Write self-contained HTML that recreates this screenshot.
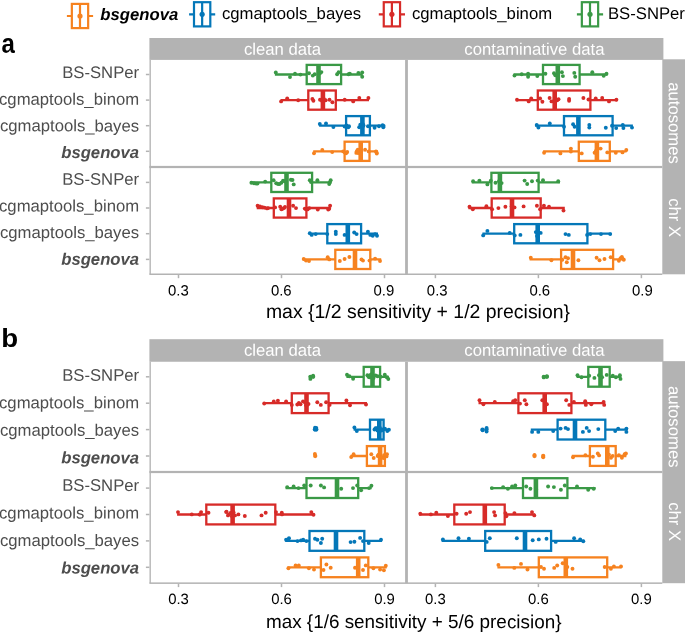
<!DOCTYPE html>
<html lang="en"><head><meta charset="utf-8"><title>Figure</title>
<style>html,body{margin:0;padding:0;background:#fff}body{width:685px;height:633px;overflow:hidden}svg{display:block;font-family:"Liberation Sans",Arial,Helvetica,sans-serif}</style>
</head><body>
<svg width="685" height="633" viewBox="0 0 685 633" role="img" aria-label="Box plots comparing SNV callers">
<rect width="685" height="633" fill="#fff"/>
<g stroke="#F6821F" fill="none" stroke-width="2.2">
<path d="M66.9 16.0H71.8M88.2 16.0H93.1M80.0 3.9V28.1"/>
<rect x="71.85" y="3.9" width="16.3" height="24.2"/>
</g>
<circle cx="80.0" cy="16.0" r="2.6" fill="#F6821F"/>
<text transform="translate(100.3 20.05) rotate(0.03)" font-size="16.7" fill="#000" font-weight="bold" font-style="italic">bsgenova</text>
<g stroke="#0477B8" fill="none" stroke-width="2.2">
<path d="M189.1 14.3H194.0M210.3 14.3H215.2M202.15 2.2V26.4"/>
<rect x="194.00" y="2.2" width="16.3" height="24.2"/>
</g>
<circle cx="202.15" cy="14.3" r="2.6" fill="#0477B8"/>
<text transform="translate(222.0 19.0) rotate(0.03)" font-size="16.7" fill="#000">cgmaptools_bayes</text>
<g stroke="#D72B28" fill="none" stroke-width="2.2">
<path d="M378.8 14.3H383.8M400.0 14.3H405.0M391.9 2.2V26.4"/>
<rect x="383.75" y="2.2" width="16.3" height="24.2"/>
</g>
<circle cx="391.9" cy="14.3" r="2.6" fill="#D72B28"/>
<text transform="translate(412.0 19.0) rotate(0.03)" font-size="16.7" fill="#000">cgmaptools_binom</text>
<g stroke="#3A9946" fill="none" stroke-width="2.2">
<path d="M576.9 14.3H581.9M598.1 14.3H603.1M590.0 2.2V26.4"/>
<rect x="581.85" y="2.2" width="16.3" height="24.2"/>
</g>
<circle cx="590.0" cy="14.3" r="2.6" fill="#3A9946"/>
<text transform="translate(607.95 19.0) rotate(0.03)" font-size="16.7" fill="#000">BS-SNPer</text>
<rect x="149.4" y="38.0" width="514.0" height="21.90" fill="#B3B3B3"/>
<rect x="662.3" y="59.30" width="22.7" height="215.00" fill="#B3B3B3"/>
<g fill="#B3B3B3">
<rect x="149.5" y="59.9" width="1.35" height="214.40"/>
<rect x="405.1" y="59.9" width="2.8" height="214.40"/>
<rect x="149.4" y="165.90" width="512.9" height="2.2"/>
<rect x="149.4" y="273.50" width="512.9" height="1.5"/>
<rect x="145.9" y="73.75" width="3.5" height="1.5"/>
<rect x="145.9" y="99.35" width="3.5" height="1.5"/>
<rect x="145.9" y="124.95" width="3.5" height="1.5"/>
<rect x="145.9" y="150.55" width="3.5" height="1.5"/>
<rect x="145.9" y="181.65" width="3.5" height="1.5"/>
<rect x="145.9" y="207.25" width="3.5" height="1.5"/>
<rect x="145.9" y="232.95" width="3.5" height="1.5"/>
<rect x="145.9" y="258.65" width="3.5" height="1.5"/>
<rect x="177.75" y="274.80" width="1.5" height="3.4"/>
<rect x="280.75" y="274.80" width="1.5" height="3.4"/>
<rect x="383.75" y="274.80" width="1.5" height="3.4"/>
<rect x="434.65" y="274.80" width="1.5" height="3.4"/>
<rect x="537.65" y="274.80" width="1.5" height="3.4"/>
<rect x="640.65" y="274.80" width="1.5" height="3.4"/>
</g>
<g fill="#fff" font-size="16.7" text-anchor="middle">
<text transform="translate(282.4 54.7) rotate(0.03)">clean data</text>
<text transform="translate(534.4 54.7) rotate(0.03)">contaminative data</text>
<text transform="translate(668.7 123.0) rotate(90.03)">autosomes</text>
<text transform="translate(668.9 217.6) rotate(90.03)">chr X</text>
</g>
<g fill="#4D4D4D" font-size="16.7" text-anchor="end">
<text transform="translate(139.1 78.1) rotate(0.03)">BS-SNPer</text>
<text transform="translate(139.1 104.8) rotate(0.03)">cgmaptools_binom</text>
<text transform="translate(139.1 131.4) rotate(0.03)">cgmaptools_bayes</text>
<text transform="translate(139.1 158.1) rotate(0.03)" font-weight="bold" font-style="italic">bsgenova</text>
<text transform="translate(139.1 184.8) rotate(0.03)">BS-SNPer</text>
<text transform="translate(139.1 211.5) rotate(0.03)">cgmaptools_binom</text>
<text transform="translate(139.1 238.1) rotate(0.03)">cgmaptools_bayes</text>
<text transform="translate(139.1 264.8) rotate(0.03)" font-weight="bold" font-style="italic">bsgenova</text>
</g>
<g fill="#000" font-size="14.9" text-anchor="middle">
<text transform="translate(178.4 295.4) rotate(0.03)">0.3</text>
<text transform="translate(281.3 295.4) rotate(0.03)">0.6</text>
<text transform="translate(383.9 295.4) rotate(0.03)">0.9</text>
<text transform="translate(437.2 295.4) rotate(0.03)">0.3</text>
<text transform="translate(539.8 295.4) rotate(0.03)">0.6</text>
<text transform="translate(642.4 295.4) rotate(0.03)">0.9</text>
</g>
<text transform="translate(265.9 318.0) rotate(0.03)" font-size="19.45" fill="#000">max {1/2 sensitivity + 1/2 precision}</text>
<text transform="translate(1.6 52.5) scale(1.0 1.155)" font-size="24" font-weight="bold" fill="#000">a</text>
<g stroke="#3A9946" fill="none" stroke-width="2.3"><path d="M274.9 74.5H306.7M341.1 74.5H362.7"/><rect x="306.7" y="64.9" width="34.4" height="19.2"/><path stroke-width="4.6" d="M318.5 64.9V84.1"/></g><g fill="#3A9946"><circle cx="275.8" cy="72.5" r="1.95"/><circle cx="290.0" cy="77.1" r="1.95"/><circle cx="295.0" cy="73.7" r="1.95"/><circle cx="300.5" cy="74.6" r="1.95"/><circle cx="309.0" cy="73.3" r="1.95"/><circle cx="312.8" cy="75.6" r="1.95"/><circle cx="314.7" cy="74.2" r="1.95"/><circle cx="320.0" cy="73.3" r="1.95"/><circle cx="321.4" cy="72.1" r="1.95"/><circle cx="337.1" cy="74.2" r="1.95"/><circle cx="338.6" cy="72.3" r="1.95"/><circle cx="348.5" cy="74.2" r="1.95"/><circle cx="349.8" cy="73.6" r="1.95"/><circle cx="358.4" cy="72.9" r="1.95"/><circle cx="362.2" cy="72.5" r="1.95"/><circle cx="362.2" cy="76.7" r="1.95"/></g>
<g stroke="#D72B28" fill="none" stroke-width="2.3"><path d="M280.6 100.1H308.3M335.8 100.1H369.0"/><rect x="308.3" y="90.5" width="27.5" height="19.2"/><path stroke-width="4.6" d="M322.9 90.5V109.7"/></g><g fill="#D72B28"><circle cx="281.1" cy="101.4" r="1.95"/><circle cx="287.2" cy="98.5" r="1.95"/><circle cx="298.2" cy="100.2" r="1.95"/><circle cx="312.4" cy="98.9" r="1.95"/><circle cx="313.4" cy="100.8" r="1.95"/><circle cx="320.0" cy="99.8" r="1.95"/><circle cx="322.0" cy="100.8" r="1.95"/><circle cx="323.8" cy="98.9" r="1.95"/><circle cx="325.7" cy="100.2" r="1.95"/><circle cx="329.5" cy="99.8" r="1.95"/><circle cx="332.4" cy="102.3" r="1.95"/><circle cx="344.7" cy="99.8" r="1.95"/><circle cx="353.2" cy="101.4" r="1.95"/><circle cx="359.3" cy="98.0" r="1.95"/><circle cx="368.4" cy="98.0" r="1.95"/></g>
<g stroke="#0477B8" fill="none" stroke-width="2.3"><path d="M319.1 125.7H346.1M369.9 125.7H384.0"/><rect x="346.1" y="116.1" width="23.8" height="19.2"/><path stroke-width="4.6" d="M362.4 116.1V135.3"/></g><g fill="#0477B8"><circle cx="319.8" cy="124.0" r="1.95"/><circle cx="326.0" cy="123.4" r="1.95"/><circle cx="333.4" cy="127.0" r="1.95"/><circle cx="344.6" cy="126.6" r="1.95"/><circle cx="348.3" cy="127.3" r="1.95"/><circle cx="359.2" cy="127.3" r="1.95"/><circle cx="361.4" cy="125.9" r="1.95"/><circle cx="362.9" cy="124.1" r="1.95"/><circle cx="368.0" cy="126.2" r="1.95"/><circle cx="374.6" cy="127.8" r="1.95"/><circle cx="379.0" cy="126.3" r="1.95"/><circle cx="382.6" cy="125.1" r="1.95"/><circle cx="383.3" cy="127.3" r="1.95"/><circle cx="346.5" cy="125.5" r="1.95"/><circle cx="349.0" cy="126.2" r="1.95"/><circle cx="360.3" cy="124.8" r="1.95"/><circle cx="362.5" cy="127.0" r="1.95"/><circle cx="363.5" cy="125.5" r="1.95"/><circle cx="383.6" cy="126.0" r="1.95"/></g>
<g stroke="#F6821F" fill="none" stroke-width="2.3"><path d="M313.2 151.3H344.6M369.5 151.3H377.9"/><rect x="344.6" y="141.7" width="24.9" height="19.2"/><path stroke-width="4.6" d="M360.7 141.7V160.9"/></g><g fill="#F6821F"><circle cx="314.0" cy="153.2" r="1.95"/><circle cx="322.3" cy="150.0" r="1.95"/><circle cx="332.2" cy="152.1" r="1.95"/><circle cx="343.2" cy="151.4" r="1.95"/><circle cx="346.1" cy="153.3" r="1.95"/><circle cx="356.3" cy="152.9" r="1.95"/><circle cx="357.8" cy="149.7" r="1.95"/><circle cx="361.4" cy="151.0" r="1.95"/><circle cx="365.1" cy="149.7" r="1.95"/><circle cx="368.7" cy="151.4" r="1.95"/><circle cx="376.0" cy="151.4" r="1.95"/><circle cx="376.8" cy="153.6" r="1.95"/><circle cx="344.8" cy="152.4" r="1.95"/><circle cx="347.2" cy="152.0" r="1.95"/><circle cx="356.8" cy="151.2" r="1.95"/><circle cx="358.3" cy="153.0" r="1.95"/><circle cx="376.6" cy="152.5" r="1.95"/></g>
<g stroke="#3A9946" fill="none" stroke-width="2.3"><path d="M513.5 74.5H543.0M579.6 74.5H607.5"/><rect x="543.0" y="64.9" width="36.6" height="19.2"/><path stroke-width="4.6" d="M557.8 64.9V84.1"/></g><g fill="#3A9946"><circle cx="514.5" cy="75.6" r="1.95"/><circle cx="521.7" cy="74.2" r="1.95"/><circle cx="528.1" cy="73.7" r="1.95"/><circle cx="528.1" cy="76.7" r="1.95"/><circle cx="537.3" cy="76.1" r="1.95"/><circle cx="545.4" cy="73.7" r="1.95"/><circle cx="554.0" cy="73.3" r="1.95"/><circle cx="555.3" cy="75.2" r="1.95"/><circle cx="561.9" cy="72.3" r="1.95"/><circle cx="562.9" cy="76.1" r="1.95"/><circle cx="574.3" cy="72.9" r="1.95"/><circle cx="575.2" cy="76.7" r="1.95"/><circle cx="592.3" cy="72.3" r="1.95"/><circle cx="603.7" cy="75.7" r="1.95"/><circle cx="606.5" cy="73.7" r="1.95"/></g>
<g stroke="#D72B28" fill="none" stroke-width="2.3"><path d="M516.4 100.1H537.8M590.4 100.1H617.0"/><rect x="537.8" y="90.5" width="52.6" height="19.2"/><path stroke-width="4.6" d="M554.7 90.5V109.7"/></g><g fill="#D72B28"><circle cx="517.0" cy="99.8" r="1.95"/><circle cx="528.7" cy="101.4" r="1.95"/><circle cx="531.2" cy="98.5" r="1.95"/><circle cx="540.1" cy="98.5" r="1.95"/><circle cx="542.4" cy="101.7" r="1.95"/><circle cx="549.6" cy="98.0" r="1.95"/><circle cx="551.5" cy="101.4" r="1.95"/><circle cx="554.7" cy="99.5" r="1.95"/><circle cx="557.2" cy="100.2" r="1.95"/><circle cx="558.5" cy="99.3" r="1.95"/><circle cx="569.1" cy="98.9" r="1.95"/><circle cx="569.1" cy="100.8" r="1.95"/><circle cx="583.4" cy="98.0" r="1.95"/><circle cx="588.5" cy="99.5" r="1.95"/><circle cx="595.7" cy="98.5" r="1.95"/><circle cx="602.2" cy="98.0" r="1.95"/><circle cx="609.0" cy="101.4" r="1.95"/><circle cx="616.4" cy="99.8" r="1.95"/></g>
<g stroke="#0477B8" fill="none" stroke-width="2.3"><path d="M535.2 125.7H564.0M612.6 125.7H632.9"/><rect x="564.0" y="116.1" width="48.6" height="19.2"/><path stroke-width="4.6" d="M578.4 116.1V135.3"/></g><g fill="#0477B8"><circle cx="536.7" cy="124.9" r="1.95"/><circle cx="538.4" cy="127.6" r="1.95"/><circle cx="549.8" cy="123.4" r="1.95"/><circle cx="564.0" cy="126.8" r="1.95"/><circle cx="573.1" cy="124.3" r="1.95"/><circle cx="574.6" cy="126.8" r="1.95"/><circle cx="589.3" cy="124.9" r="1.95"/><circle cx="589.3" cy="127.6" r="1.95"/><circle cx="605.8" cy="127.7" r="1.95"/><circle cx="612.0" cy="125.7" r="1.95"/><circle cx="616.2" cy="128.1" r="1.95"/><circle cx="622.8" cy="124.9" r="1.95"/><circle cx="623.4" cy="128.1" r="1.95"/><circle cx="632.0" cy="127.6" r="1.95"/></g>
<g stroke="#F6821F" fill="none" stroke-width="2.3"><path d="M543.1 151.3H578.8M609.8 151.3H626.6"/><rect x="578.8" y="141.7" width="31.0" height="19.2"/><path stroke-width="4.6" d="M596.9 141.7V160.9"/></g><g fill="#F6821F"><circle cx="544.1" cy="152.8" r="1.95"/><circle cx="560.4" cy="153.4" r="1.95"/><circle cx="570.9" cy="148.6" r="1.95"/><circle cx="570.9" cy="151.5" r="1.95"/><circle cx="581.7" cy="153.4" r="1.95"/><circle cx="594.6" cy="152.8" r="1.95"/><circle cx="595.9" cy="150.9" r="1.95"/><circle cx="600.6" cy="148.6" r="1.95"/><circle cx="607.3" cy="152.4" r="1.95"/><circle cx="615.8" cy="152.8" r="1.95"/><circle cx="622.5" cy="152.4" r="1.95"/><circle cx="626.3" cy="150.0" r="1.95"/></g>
<g stroke="#3A9946" fill="none" stroke-width="2.3"><path d="M250.4 182.4H271.3M312.1 182.4H331.5"/><rect x="271.3" y="172.8" width="40.8" height="19.2"/><path stroke-width="4.6" d="M286.5 172.8V192.0"/></g><g fill="#3A9946"><circle cx="251.4" cy="182.7" r="1.95"/><circle cx="256.1" cy="183.6" r="1.95"/><circle cx="265.2" cy="181.6" r="1.95"/><circle cx="273.6" cy="180.2" r="1.95"/><circle cx="278.0" cy="184.0" r="1.95"/><circle cx="281.4" cy="182.7" r="1.95"/><circle cx="284.6" cy="181.2" r="1.95"/><circle cx="290.9" cy="179.7" r="1.95"/><circle cx="293.7" cy="184.4" r="1.95"/><circle cx="309.8" cy="180.2" r="1.95"/><circle cx="317.4" cy="180.2" r="1.95"/><circle cx="329.2" cy="184.0" r="1.95"/><circle cx="330.7" cy="180.2" r="1.95"/><circle cx="276.2" cy="183.3" r="1.95"/><circle cx="279.5" cy="184.0" r="1.95"/><circle cx="283.1" cy="180.6" r="1.95"/><circle cx="254.0" cy="183.3" r="1.95"/><circle cx="257.5" cy="183.6" r="1.95"/><circle cx="292.5" cy="180.0" r="1.95"/><circle cx="311.0" cy="182.0" r="1.95"/><circle cx="329.8" cy="182.4" r="1.95"/></g>
<g stroke="#D72B28" fill="none" stroke-width="2.3"><path d="M256.7 208.0H273.8M306.4 208.0H330.7"/><rect x="273.8" y="198.4" width="32.6" height="19.2"/><path stroke-width="4.6" d="M289.0 198.4V217.6"/></g><g fill="#D72B28"><circle cx="257.6" cy="205.8" r="1.95"/><circle cx="262.4" cy="207.2" r="1.95"/><circle cx="268.1" cy="208.1" r="1.95"/><circle cx="275.1" cy="207.4" r="1.95"/><circle cx="280.2" cy="206.8" r="1.95"/><circle cx="281.4" cy="209.3" r="1.95"/><circle cx="284.0" cy="208.1" r="1.95"/><circle cx="293.1" cy="205.8" r="1.95"/><circle cx="296.0" cy="208.1" r="1.95"/><circle cx="306.0" cy="209.3" r="1.95"/><circle cx="309.3" cy="208.1" r="1.95"/><circle cx="317.8" cy="209.6" r="1.95"/><circle cx="328.2" cy="209.6" r="1.95"/><circle cx="330.1" cy="205.8" r="1.95"/><circle cx="260.0" cy="206.4" r="1.95"/><circle cx="264.5" cy="207.6" r="1.95"/><circle cx="267.0" cy="208.4" r="1.95"/><circle cx="282.5" cy="208.8" r="1.95"/><circle cx="285.0" cy="207.0" r="1.95"/><circle cx="304.8" cy="208.6" r="1.95"/><circle cx="307.6" cy="209.4" r="1.95"/><circle cx="329.2" cy="208.8" r="1.95"/></g>
<g stroke="#0477B8" fill="none" stroke-width="2.3"><path d="M309.0 233.7H327.3M361.1 233.7H378.0"/><rect x="327.3" y="224.1" width="33.8" height="19.2"/><path stroke-width="4.6" d="M347.8 224.1V243.3"/></g><g fill="#0477B8"><circle cx="309.8" cy="233.3" r="1.95"/><circle cx="311.7" cy="234.9" r="1.95"/><circle cx="315.7" cy="234.1" r="1.95"/><circle cx="327.3" cy="234.1" r="1.95"/><circle cx="335.8" cy="231.7" r="1.95"/><circle cx="335.8" cy="234.1" r="1.95"/><circle cx="344.6" cy="234.9" r="1.95"/><circle cx="354.2" cy="232.5" r="1.95"/><circle cx="356.6" cy="234.1" r="1.95"/><circle cx="367.9" cy="231.7" r="1.95"/><circle cx="370.3" cy="234.9" r="1.95"/><circle cx="372.7" cy="235.7" r="1.95"/><circle cx="375.1" cy="234.1" r="1.95"/><circle cx="377.0" cy="235.7" r="1.95"/></g>
<g stroke="#F6821F" fill="none" stroke-width="2.3"><path d="M302.8 259.4H335.3M370.3 259.4H381.2"/><rect x="335.3" y="249.8" width="35.0" height="19.2"/><path stroke-width="4.6" d="M355.0 249.8V269.0"/></g><g fill="#F6821F"><circle cx="303.7" cy="259.0" r="1.95"/><circle cx="306.0" cy="260.6" r="1.95"/><circle cx="309.0" cy="261.0" r="1.95"/><circle cx="327.7" cy="257.3" r="1.95"/><circle cx="329.3" cy="259.4" r="1.95"/><circle cx="339.8" cy="261.0" r="1.95"/><circle cx="344.6" cy="259.0" r="1.95"/><circle cx="349.4" cy="257.0" r="1.95"/><circle cx="361.5" cy="259.4" r="1.95"/><circle cx="363.0" cy="260.6" r="1.95"/><circle cx="369.5" cy="260.6" r="1.95"/><circle cx="375.1" cy="258.6" r="1.95"/><circle cx="380.0" cy="261.0" r="1.95"/></g>
<g stroke="#3A9946" fill="none" stroke-width="2.3"><path d="M471.8 182.4H491.4M538.6 182.4H560.0"/><rect x="491.4" y="172.8" width="47.2" height="19.2"/><path stroke-width="4.6" d="M499.9 172.8V192.0"/></g><g fill="#3A9946"><circle cx="473.1" cy="181.2" r="1.95"/><circle cx="479.4" cy="180.6" r="1.95"/><circle cx="487.4" cy="184.4" r="1.95"/><circle cx="490.8" cy="180.8" r="1.95"/><circle cx="495.5" cy="182.7" r="1.95"/><circle cx="499.0" cy="181.2" r="1.95"/><circle cx="501.6" cy="183.1" r="1.95"/><circle cx="524.6" cy="180.6" r="1.95"/><circle cx="527.2" cy="184.0" r="1.95"/><circle cx="532.0" cy="181.2" r="1.95"/><circle cx="537.7" cy="180.6" r="1.95"/><circle cx="543.0" cy="180.2" r="1.95"/><circle cx="558.2" cy="181.2" r="1.95"/></g>
<g stroke="#D72B28" fill="none" stroke-width="2.3"><path d="M468.4 208.0H491.7M540.7 208.0H564.8"/><rect x="491.7" y="198.4" width="49.0" height="19.2"/><path stroke-width="4.6" d="M512.0 198.4V217.6"/></g><g fill="#D72B28"><circle cx="469.5" cy="206.8" r="1.95"/><circle cx="472.8" cy="209.3" r="1.95"/><circle cx="486.4" cy="206.2" r="1.95"/><circle cx="492.1" cy="209.3" r="1.95"/><circle cx="498.4" cy="208.1" r="1.95"/><circle cx="505.4" cy="206.8" r="1.95"/><circle cx="511.7" cy="206.2" r="1.95"/><circle cx="514.5" cy="207.4" r="1.95"/><circle cx="523.6" cy="206.4" r="1.95"/><circle cx="536.9" cy="205.8" r="1.95"/><circle cx="540.1" cy="209.3" r="1.95"/><circle cx="543.9" cy="205.8" r="1.95"/><circle cx="549.0" cy="206.8" r="1.95"/><circle cx="563.5" cy="210.6" r="1.95"/></g>
<g stroke="#0477B8" fill="none" stroke-width="2.3"><path d="M482.4 233.7H514.2M587.4 233.7H611.4"/><rect x="514.2" y="224.1" width="73.2" height="19.2"/><path stroke-width="4.6" d="M537.7 224.1V243.3"/></g><g fill="#0477B8"><circle cx="483.2" cy="235.4" r="1.95"/><circle cx="487.4" cy="230.9" r="1.95"/><circle cx="509.7" cy="232.9" r="1.95"/><circle cx="514.7" cy="235.4" r="1.95"/><circle cx="520.4" cy="234.9" r="1.95"/><circle cx="535.8" cy="232.1" r="1.95"/><circle cx="537.0" cy="235.9" r="1.95"/><circle cx="540.7" cy="232.9" r="1.95"/><circle cx="565.5" cy="234.1" r="1.95"/><circle cx="568.8" cy="234.9" r="1.95"/><circle cx="587.1" cy="234.9" r="1.95"/><circle cx="590.3" cy="234.1" r="1.95"/><circle cx="601.0" cy="234.1" r="1.95"/><circle cx="610.2" cy="234.1" r="1.95"/></g>
<g stroke="#F6821F" fill="none" stroke-width="2.3"><path d="M529.6 259.4H561.1M613.1 259.4H625.1"/><rect x="561.1" y="249.8" width="52.0" height="19.2"/><path stroke-width="4.6" d="M573.0 249.8V269.0"/></g><g fill="#F6821F"><circle cx="530.8" cy="257.7" r="1.95"/><circle cx="551.4" cy="260.2" r="1.95"/><circle cx="562.3" cy="259.7" r="1.95"/><circle cx="565.5" cy="257.2" r="1.95"/><circle cx="568.0" cy="258.2" r="1.95"/><circle cx="566.8" cy="262.2" r="1.95"/><circle cx="578.4" cy="260.2" r="1.95"/><circle cx="596.6" cy="257.7" r="1.95"/><circle cx="599.5" cy="260.2" r="1.95"/><circle cx="604.5" cy="259.0" r="1.95"/><circle cx="610.7" cy="257.2" r="1.95"/><circle cx="618.9" cy="260.7" r="1.95"/><circle cx="621.9" cy="257.0" r="1.95"/><circle cx="623.8" cy="259.7" r="1.95"/><circle cx="620.5" cy="258.3" r="1.95"/><circle cx="622.6" cy="258.6" r="1.95"/></g>
<rect x="149.4" y="339.2" width="514.0" height="22.55" fill="#B3B3B3"/>
<rect x="662.3" y="361.15" width="22.7" height="222.05" fill="#B3B3B3"/>
<g fill="#B3B3B3">
<rect x="149.5" y="361.75" width="1.35" height="221.45"/>
<rect x="405.1" y="361.75" width="2.8" height="221.45"/>
<rect x="149.4" y="470.90" width="512.9" height="2.2"/>
<rect x="149.4" y="582.40" width="512.9" height="1.5"/>
<rect x="145.9" y="376.05" width="3.5" height="1.5"/>
<rect x="145.9" y="402.45" width="3.5" height="1.5"/>
<rect x="145.9" y="428.85" width="3.5" height="1.5"/>
<rect x="145.9" y="455.25" width="3.5" height="1.5"/>
<rect x="145.9" y="487.35" width="3.5" height="1.5"/>
<rect x="145.9" y="513.75" width="3.5" height="1.5"/>
<rect x="145.9" y="540.15" width="3.5" height="1.5"/>
<rect x="145.9" y="566.55" width="3.5" height="1.5"/>
<rect x="177.75" y="583.70" width="1.5" height="3.4"/>
<rect x="280.75" y="583.70" width="1.5" height="3.4"/>
<rect x="383.75" y="583.70" width="1.5" height="3.4"/>
<rect x="434.65" y="583.70" width="1.5" height="3.4"/>
<rect x="537.65" y="583.70" width="1.5" height="3.4"/>
<rect x="640.65" y="583.70" width="1.5" height="3.4"/>
</g>
<g fill="#fff" font-size="16.7" text-anchor="middle">
<text transform="translate(282.4 355.7) rotate(0.03)">clean data</text>
<text transform="translate(534.4 355.7) rotate(0.03)">contaminative data</text>
<text transform="translate(668.7 426.7) rotate(90.03)">autosomes</text>
<text transform="translate(668.9 521.7) rotate(90.03)">chr X</text>
</g>
<g fill="#4D4D4D" font-size="16.7" text-anchor="end">
<text transform="translate(139.1 380.7) rotate(0.03)">BS-SNPer</text>
<text transform="translate(139.1 408.2) rotate(0.03)">cgmaptools_binom</text>
<text transform="translate(139.1 435.8) rotate(0.03)">cgmaptools_bayes</text>
<text transform="translate(139.1 463.4) rotate(0.03)" font-weight="bold" font-style="italic">bsgenova</text>
<text transform="translate(139.1 490.9) rotate(0.03)">BS-SNPer</text>
<text transform="translate(139.1 518.5) rotate(0.03)">cgmaptools_binom</text>
<text transform="translate(139.1 546.0) rotate(0.03)">cgmaptools_bayes</text>
<text transform="translate(139.1 573.5) rotate(0.03)" font-weight="bold" font-style="italic">bsgenova</text>
</g>
<g fill="#000" font-size="14.9" text-anchor="middle">
<text transform="translate(178.5 604.1) rotate(0.03)">0.3</text>
<text transform="translate(281.5 604.1) rotate(0.03)">0.6</text>
<text transform="translate(384.5 604.1) rotate(0.03)">0.9</text>
<text transform="translate(435.4 604.1) rotate(0.03)">0.3</text>
<text transform="translate(538.4 604.1) rotate(0.03)">0.6</text>
<text transform="translate(641.4 604.1) rotate(0.03)">0.9</text>
</g>
<text transform="translate(265.9 628.0) rotate(0.03)" font-size="18.9" fill="#000">max {1/6 sensitivity + 5/6 precision}</text>
<text transform="translate(1.2 347.0) scale(1.152 1.074)" font-size="24" font-weight="bold" fill="#000">b</text>
<g stroke="#3A9946" fill="none" stroke-width="2.3"><path d="M346.4 376.8H363.7M380.1 376.8H388.9"/><rect x="363.7" y="366.9" width="16.4" height="19.8"/><path stroke-width="4.6" d="M372.5 366.9V386.7"/></g><g fill="#3A9946"><circle cx="313.1" cy="375.7" r="1.95"/><circle cx="313.1" cy="376.8" r="2.15"/><circle cx="310.4" cy="376.8" r="2.15"/><circle cx="310.4" cy="378.9" r="1.95"/><circle cx="347.0" cy="374.7" r="1.95"/><circle cx="349.4" cy="376.3" r="1.95"/><circle cx="353.1" cy="378.8" r="1.95"/><circle cx="367.4" cy="375.3" r="1.95"/><circle cx="369.4" cy="377.3" r="1.95"/><circle cx="371.5" cy="374.3" r="1.95"/><circle cx="373.5" cy="377.9" r="1.95"/><circle cx="377.6" cy="376.3" r="1.95"/><circle cx="380.7" cy="376.7" r="1.95"/><circle cx="384.8" cy="374.7" r="1.95"/><circle cx="386.8" cy="377.3" r="1.95"/><circle cx="388.3" cy="379.0" r="1.95"/><circle cx="368.5" cy="376.8" r="1.95"/><circle cx="370.5" cy="375.0" r="1.95"/><circle cx="372.5" cy="378.5" r="1.95"/><circle cx="375.5" cy="375.5" r="1.95"/></g>
<g stroke="#D72B28" fill="none" stroke-width="2.3"><path d="M263.2 403.2H291.8M328.6 403.2H367.0"/><rect x="291.8" y="393.3" width="36.8" height="19.8"/><path stroke-width="4.6" d="M306.5 393.3V413.1"/></g><g fill="#D72B28"><circle cx="264.2" cy="403.5" r="1.95"/><circle cx="273.8" cy="401.4" r="1.95"/><circle cx="277.9" cy="400.8" r="1.95"/><circle cx="286.1" cy="401.4" r="1.95"/><circle cx="291.8" cy="404.9" r="1.95"/><circle cx="297.3" cy="404.5" r="1.95"/><circle cx="298.9" cy="402.9" r="1.95"/><circle cx="303.0" cy="401.4" r="1.95"/><circle cx="306.1" cy="405.3" r="1.95"/><circle cx="308.5" cy="403.9" r="1.95"/><circle cx="317.3" cy="402.3" r="1.95"/><circle cx="320.8" cy="404.9" r="1.95"/><circle cx="326.1" cy="402.3" r="1.95"/><circle cx="329.6" cy="404.9" r="1.95"/><circle cx="346.4" cy="400.4" r="1.95"/><circle cx="350.0" cy="405.3" r="1.95"/><circle cx="366.0" cy="404.5" r="1.95"/><circle cx="300.5" cy="404.3" r="1.95"/><circle cx="305.0" cy="402.5" r="1.95"/><circle cx="307.5" cy="404.8" r="1.95"/></g>
<g stroke="#0477B8" fill="none" stroke-width="2.3"><path d="M353.6 429.6H370.0M383.6 429.6H389.7"/><rect x="370.0" y="419.7" width="13.6" height="19.8"/><path stroke-width="4.6" d="M379.3 419.7V439.5"/></g><g fill="#0477B8"><circle cx="314.9" cy="429.6" r="2.15"/><circle cx="316.3" cy="429.6" r="2.15"/><circle cx="315.0" cy="427.8" r="1.95"/><circle cx="316.3" cy="427.9" r="1.95"/><circle cx="354.4" cy="427.5" r="1.95"/><circle cx="356.8" cy="431.1" r="1.95"/><circle cx="374.5" cy="429.5" r="1.95"/><circle cx="376.9" cy="428.2" r="1.95"/><circle cx="378.5" cy="430.3" r="1.95"/><circle cx="382.5" cy="429.5" r="1.95"/><circle cx="384.9" cy="428.7" r="1.95"/><circle cx="387.3" cy="431.1" r="1.95"/><circle cx="388.9" cy="429.8" r="1.95"/><circle cx="375.5" cy="428.3" r="1.95"/><circle cx="377.5" cy="430.6" r="1.95"/><circle cx="380.0" cy="428.0" r="1.95"/><circle cx="381.5" cy="430.5" r="1.95"/></g>
<g stroke="#F6821F" fill="none" stroke-width="2.3"><path d="M350.4 456.0H366.9M384.9 456.0H387.8"/><rect x="366.9" y="446.1" width="18.0" height="19.8"/><path stroke-width="4.6" d="M380.1 446.1V465.9"/></g><g fill="#F6821F"><circle cx="314.9" cy="453.9" r="1.95"/><circle cx="315.2" cy="456.0" r="2.15"/><circle cx="351.2" cy="457.1" r="1.95"/><circle cx="353.6" cy="454.3" r="1.95"/><circle cx="371.3" cy="454.3" r="1.95"/><circle cx="373.7" cy="458.0" r="1.95"/><circle cx="377.7" cy="456.0" r="1.95"/><circle cx="380.1" cy="457.1" r="1.95"/><circle cx="384.1" cy="455.1" r="1.95"/><circle cx="386.5" cy="456.4" r="1.95"/><circle cx="387.0" cy="454.3" r="1.95"/><circle cx="378.5" cy="454.6" r="1.95"/><circle cx="382.2" cy="457.2" r="1.95"/><circle cx="385.5" cy="455.0" r="1.95"/><circle cx="383.5" cy="458.0" r="1.95"/></g>
<g stroke="#3A9946" fill="none" stroke-width="2.3"><path d="M576.6 376.8H588.3M609.7 376.8H621.4"/><rect x="588.3" y="366.9" width="21.4" height="19.8"/><path stroke-width="4.6" d="M600.5 366.9V386.7"/></g><g fill="#3A9946"><circle cx="543.8" cy="376.8" r="2.15"/><circle cx="546.9" cy="376.8" r="2.15"/><circle cx="543.8" cy="377.4" r="1.95"/><circle cx="546.9" cy="376.2" r="1.95"/><circle cx="577.5" cy="375.2" r="1.95"/><circle cx="581.5" cy="377.3" r="1.95"/><circle cx="589.2" cy="375.8" r="1.95"/><circle cx="594.4" cy="377.9" r="1.95"/><circle cx="599.0" cy="375.2" r="1.95"/><circle cx="602.1" cy="377.3" r="1.95"/><circle cx="606.7" cy="374.9" r="1.95"/><circle cx="612.8" cy="375.8" r="1.95"/><circle cx="615.9" cy="377.3" r="1.95"/><circle cx="619.9" cy="375.2" r="1.95"/><circle cx="620.5" cy="378.9" r="1.95"/></g>
<g stroke="#D72B28" fill="none" stroke-width="2.3"><path d="M478.5 403.2H518.4M571.4 403.2H605.1"/><rect x="518.4" y="393.3" width="53.0" height="19.8"/><path stroke-width="4.6" d="M544.7 393.3V413.1"/></g><g fill="#D72B28"><circle cx="479.5" cy="400.3" r="1.95"/><circle cx="483.4" cy="404.3" r="1.95"/><circle cx="494.8" cy="401.9" r="1.95"/><circle cx="513.2" cy="401.2" r="1.95"/><circle cx="515.3" cy="400.3" r="1.95"/><circle cx="524.8" cy="400.3" r="1.95"/><circle cx="526.4" cy="404.3" r="1.95"/><circle cx="542.3" cy="400.3" r="1.95"/><circle cx="545.4" cy="403.4" r="1.95"/><circle cx="546.9" cy="404.3" r="1.95"/><circle cx="566.2" cy="400.3" r="1.95"/><circle cx="569.3" cy="404.9" r="1.95"/><circle cx="573.9" cy="401.9" r="1.95"/><circle cx="585.2" cy="401.2" r="1.95"/><circle cx="585.8" cy="404.9" r="1.95"/><circle cx="591.3" cy="404.3" r="1.95"/><circle cx="603.6" cy="401.9" r="1.95"/><circle cx="604.2" cy="404.9" r="1.95"/><circle cx="520.0" cy="403.6" r="1.95"/></g>
<g stroke="#0477B8" fill="none" stroke-width="2.3"><path d="M530.8 429.6H557.6M605.3 429.6H627.6"/><rect x="557.6" y="419.7" width="47.7" height="19.8"/><path stroke-width="4.6" d="M575.0 419.7V439.5"/></g><g fill="#0477B8"><circle cx="482.5" cy="429.6" r="2.15"/><circle cx="486.5" cy="429.6" r="2.15"/><circle cx="482.6" cy="430.2" r="1.95"/><circle cx="486.6" cy="427.9" r="1.95"/><circle cx="486.6" cy="431.6" r="1.95"/><circle cx="532.1" cy="431.9" r="1.95"/><circle cx="538.3" cy="431.9" r="1.95"/><circle cx="553.2" cy="431.1" r="1.95"/><circle cx="560.6" cy="428.6" r="1.95"/><circle cx="565.6" cy="427.9" r="1.95"/><circle cx="568.0" cy="429.1" r="1.95"/><circle cx="582.9" cy="431.9" r="1.95"/><circle cx="586.7" cy="427.9" r="1.95"/><circle cx="589.1" cy="431.1" r="1.95"/><circle cx="598.3" cy="429.1" r="1.95"/><circle cx="615.2" cy="431.1" r="1.95"/><circle cx="618.2" cy="428.6" r="1.95"/><circle cx="626.4" cy="428.6" r="1.95"/><circle cx="626.4" cy="431.9" r="1.95"/></g>
<g stroke="#F6821F" fill="none" stroke-width="2.3"><path d="M571.8 456.0H589.9M615.7 456.0H626.4"/><rect x="589.9" y="446.1" width="25.8" height="19.8"/><path stroke-width="4.6" d="M607.3 446.1V465.9"/></g><g fill="#F6821F"><circle cx="534.5" cy="454.9" r="1.95"/><circle cx="534.5" cy="456.0" r="2.15"/><circle cx="543.2" cy="456.0" r="2.15"/><circle cx="543.2" cy="457.3" r="1.95"/><circle cx="573.0" cy="457.2" r="1.95"/><circle cx="585.4" cy="455.2" r="1.95"/><circle cx="592.9" cy="456.7" r="1.95"/><circle cx="597.8" cy="453.5" r="1.95"/><circle cx="599.1" cy="455.4" r="1.95"/><circle cx="609.0" cy="454.7" r="1.95"/><circle cx="611.0" cy="457.7" r="1.95"/><circle cx="612.7" cy="455.9" r="1.95"/><circle cx="618.9" cy="455.2" r="1.95"/><circle cx="621.9" cy="457.7" r="1.95"/><circle cx="624.6" cy="454.2" r="1.95"/><circle cx="625.9" cy="453.5" r="1.95"/></g>
<g stroke="#3A9946" fill="none" stroke-width="2.3"><path d="M285.6 488.1H306.5M358.2 488.1H371.7"/><rect x="306.5" y="478.2" width="51.7" height="19.8"/><path stroke-width="4.6" d="M337.0 478.2V498.0"/></g><g fill="#3A9946"><circle cx="287.2" cy="487.1" r="1.95"/><circle cx="293.6" cy="486.5" r="1.95"/><circle cx="298.5" cy="488.1" r="1.95"/><circle cx="304.2" cy="485.5" r="1.95"/><circle cx="310.7" cy="485.5" r="1.95"/><circle cx="320.9" cy="485.5" r="1.95"/><circle cx="324.1" cy="487.4" r="1.95"/><circle cx="341.2" cy="488.7" r="1.95"/><circle cx="353.0" cy="488.1" r="1.95"/><circle cx="357.2" cy="485.5" r="1.95"/><circle cx="361.1" cy="490.3" r="1.95"/><circle cx="369.1" cy="488.1" r="1.95"/><circle cx="371.4" cy="485.8" r="1.95"/></g>
<g stroke="#D72B28" fill="none" stroke-width="2.3"><path d="M177.1 514.5H206.3M275.3 514.5H313.9"/><rect x="206.3" y="504.6" width="69.0" height="19.8"/><path stroke-width="4.6" d="M232.6 504.6V524.4"/></g><g fill="#D72B28"><circle cx="178.0" cy="512.1" r="1.95"/><circle cx="191.8" cy="514.4" r="1.95"/><circle cx="199.5" cy="514.4" r="1.95"/><circle cx="201.1" cy="512.1" r="1.95"/><circle cx="208.5" cy="512.8" r="1.95"/><circle cx="226.2" cy="512.1" r="1.95"/><circle cx="228.8" cy="514.4" r="1.95"/><circle cx="232.0" cy="516.3" r="1.95"/><circle cx="238.4" cy="514.4" r="1.95"/><circle cx="244.8" cy="516.0" r="1.95"/><circle cx="261.5" cy="515.4" r="1.95"/><circle cx="265.7" cy="512.8" r="1.95"/><circle cx="276.0" cy="512.1" r="1.95"/><circle cx="281.8" cy="512.8" r="1.95"/><circle cx="311.3" cy="512.1" r="1.95"/><circle cx="313.5" cy="514.7" r="1.95"/><circle cx="226.5" cy="511.6" r="1.95"/><circle cx="228.0" cy="515.4" r="1.95"/><circle cx="230.5" cy="513.0" r="1.95"/><circle cx="233.5" cy="512.2" r="1.95"/><circle cx="235.0" cy="515.4" r="1.95"/><circle cx="199.8" cy="514.6" r="1.95"/><circle cx="282.0" cy="514.4" r="1.95"/></g>
<g stroke="#0477B8" fill="none" stroke-width="2.3"><path d="M285.2 540.9H309.5M364.3 540.9H382.0"/><rect x="309.5" y="531.0" width="54.8" height="19.8"/><path stroke-width="4.6" d="M336.0 531.0V550.8"/></g><g fill="#0477B8"><circle cx="286.1" cy="539.8" r="1.95"/><circle cx="289.0" cy="538.3" r="1.95"/><circle cx="297.5" cy="541.1" r="1.95"/><circle cx="303.2" cy="539.8" r="1.95"/><circle cx="306.4" cy="541.1" r="1.95"/><circle cx="315.0" cy="538.7" r="1.95"/><circle cx="317.4" cy="539.8" r="1.95"/><circle cx="320.9" cy="543.0" r="1.95"/><circle cx="322.2" cy="538.7" r="1.95"/><circle cx="350.6" cy="542.1" r="1.95"/><circle cx="354.4" cy="541.7" r="1.95"/><circle cx="360.1" cy="537.9" r="1.95"/><circle cx="363.0" cy="541.1" r="1.95"/><circle cx="368.7" cy="543.0" r="1.95"/><circle cx="381.0" cy="539.8" r="1.95"/><circle cx="288.0" cy="539.4" r="1.95"/><circle cx="301.0" cy="540.4" r="1.95"/></g>
<g stroke="#F6821F" fill="none" stroke-width="2.3"><path d="M287.5 567.3H320.9M368.3 567.3H386.7"/><rect x="320.9" y="557.4" width="47.4" height="19.8"/><path stroke-width="4.6" d="M358.2 557.4V577.2"/></g><g fill="#F6821F"><circle cx="288.4" cy="568.3" r="1.95"/><circle cx="295.6" cy="565.4" r="1.95"/><circle cx="298.8" cy="565.4" r="1.95"/><circle cx="308.9" cy="568.3" r="1.95"/><circle cx="314.0" cy="569.6" r="1.95"/><circle cx="323.5" cy="570.0" r="1.95"/><circle cx="326.4" cy="564.5" r="1.95"/><circle cx="330.7" cy="567.7" r="1.95"/><circle cx="355.0" cy="567.7" r="1.95"/><circle cx="363.0" cy="570.0" r="1.95"/><circle cx="365.8" cy="565.4" r="1.95"/><circle cx="373.4" cy="568.3" r="1.95"/><circle cx="380.1" cy="569.6" r="1.95"/><circle cx="383.9" cy="570.2" r="1.95"/><circle cx="385.8" cy="565.8" r="1.95"/></g>
<g stroke="#3A9946" fill="none" stroke-width="2.3"><path d="M490.3 488.1H523.0M567.4 488.1H595.6"/><rect x="523.0" y="478.2" width="44.4" height="19.8"/><path stroke-width="4.6" d="M535.9 478.2V498.0"/></g><g fill="#3A9946"><circle cx="491.9" cy="488.1" r="1.95"/><circle cx="503.1" cy="487.1" r="1.95"/><circle cx="507.9" cy="488.7" r="1.95"/><circle cx="512.1" cy="486.5" r="1.95"/><circle cx="515.3" cy="485.5" r="1.95"/><circle cx="526.2" cy="486.5" r="1.95"/><circle cx="530.4" cy="488.7" r="1.95"/><circle cx="536.2" cy="489.7" r="1.95"/><circle cx="548.1" cy="486.5" r="1.95"/><circle cx="553.9" cy="487.1" r="1.95"/><circle cx="560.9" cy="489.7" r="1.95"/><circle cx="564.8" cy="485.5" r="1.95"/><circle cx="577.0" cy="486.5" r="1.95"/><circle cx="588.2" cy="489.7" r="1.95"/><circle cx="593.7" cy="488.7" r="1.95"/></g>
<g stroke="#D72B28" fill="none" stroke-width="2.3"><path d="M419.0 514.5H454.3M504.7 514.5H535.2"/><rect x="454.3" y="504.6" width="50.4" height="19.8"/><path stroke-width="4.6" d="M484.8 504.6V524.4"/></g><g fill="#D72B28"><circle cx="420.3" cy="513.7" r="1.95"/><circle cx="430.9" cy="514.4" r="1.95"/><circle cx="436.3" cy="512.8" r="1.95"/><circle cx="447.9" cy="516.0" r="1.95"/><circle cx="456.6" cy="513.7" r="1.95"/><circle cx="466.2" cy="513.7" r="1.95"/><circle cx="470.0" cy="512.1" r="1.95"/><circle cx="494.1" cy="512.1" r="1.95"/><circle cx="495.1" cy="515.4" r="1.95"/><circle cx="505.4" cy="513.1" r="1.95"/><circle cx="506.3" cy="516.3" r="1.95"/><circle cx="514.4" cy="513.1" r="1.95"/><circle cx="532.0" cy="512.1" r="1.95"/><circle cx="534.3" cy="515.4" r="1.95"/></g>
<g stroke="#0477B8" fill="none" stroke-width="2.3"><path d="M441.6 540.9H485.2M551.1 540.9H584.2"/><rect x="485.2" y="531.0" width="65.9" height="19.8"/><path stroke-width="4.6" d="M525.0 531.0V550.8"/></g><g fill="#0477B8"><circle cx="442.9" cy="539.4" r="1.95"/><circle cx="458.5" cy="538.2" r="1.95"/><circle cx="468.9" cy="538.8" r="1.95"/><circle cx="486.7" cy="541.9" r="1.95"/><circle cx="489.8" cy="538.2" r="1.95"/><circle cx="516.8" cy="538.2" r="1.95"/><circle cx="532.7" cy="540.3" r="1.95"/><circle cx="538.8" cy="539.4" r="1.95"/><circle cx="546.5" cy="538.8" r="1.95"/><circle cx="555.7" cy="541.9" r="1.95"/><circle cx="574.1" cy="538.2" r="1.95"/><circle cx="580.2" cy="539.4" r="1.95"/><circle cx="583.3" cy="541.2" r="1.95"/></g>
<g stroke="#F6821F" fill="none" stroke-width="2.3"><path d="M497.4 567.3H538.8M607.2 567.3H621.6"/><rect x="538.8" y="557.4" width="68.4" height="19.8"/><path stroke-width="4.6" d="M565.8 557.4V577.2"/></g><g fill="#F6821F"><circle cx="498.4" cy="564.9" r="1.95"/><circle cx="514.3" cy="567.9" r="1.95"/><circle cx="521.0" cy="563.9" r="1.95"/><circle cx="527.5" cy="569.5" r="1.95"/><circle cx="541.0" cy="567.0" r="1.95"/><circle cx="544.0" cy="568.8" r="1.95"/><circle cx="554.2" cy="567.9" r="1.95"/><circle cx="557.2" cy="565.5" r="1.95"/><circle cx="562.7" cy="563.3" r="1.95"/><circle cx="567.3" cy="567.0" r="1.95"/><circle cx="572.5" cy="568.8" r="1.95"/><circle cx="604.7" cy="567.0" r="1.95"/><circle cx="610.9" cy="568.8" r="1.95"/><circle cx="613.9" cy="566.4" r="1.95"/><circle cx="621.0" cy="566.4" r="1.95"/></g>
</svg></body></html>
